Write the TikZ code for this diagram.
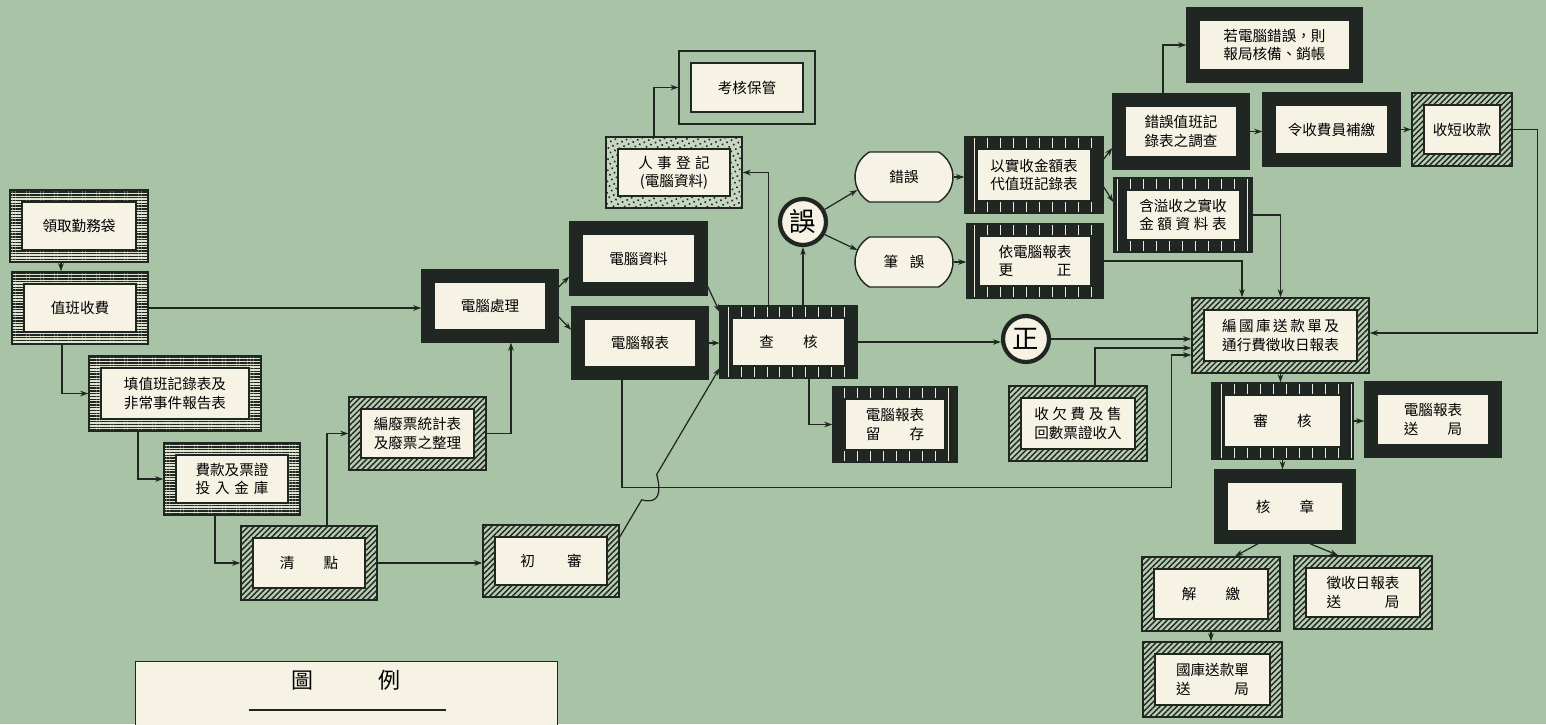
\documentclass[tikz,border=0pt]{standalone}
\usepackage{fontspec}
\newfontfamily\cjk{Noto Sans CJK TC}
\usepackage{tikz}
\usetikzlibrary{positioning,arrows.meta,calc,patterns.meta,shapes.misc}

\definecolor{bg}{RGB}{168,195,166}
\definecolor{paper}{RGB}{246,242,228}
\definecolor{ink}{RGB}{32,38,33}

\begin{document}
\begin{tikzpicture}[
  x=0.02cm, y=-0.02cm,
  font=\cjk\fontsize{8.3}{10.4}\selectfont,
  sz/.style 2 args={minimum width=#1*0.02cm, minimum height=#2*0.02cm},
  box/.style={draw=ink, line width=0.8pt, inner sep=0pt, align=center, sz={136}{73},
    path picture={\draw[ink, line width=0.7pt, fill=paper]
      ([shift={(2.4mm,2.4mm)}]path picture bounding box.south west) rectangle
      ([shift={(-2.4mm,-2.4mm)}]path picture bounding box.north east);}},
  thickbox/.style={box, fill=ink},
  stripebox/.style={box, preaction={fill=paper!70!bg},
    pattern={Lines[angle=0, distance=0.56mm, line width=0.3mm]}, pattern color=ink},
  hatchbox/.style={box, preaction={fill=bg!80!paper},
    pattern={Lines[angle=45, distance=0.8mm, line width=0.28mm]}, pattern color=ink},
  brickbox/.style={box, preaction={fill=ink},
    pattern={Lines[angle=90, distance=2.6mm, line width=0.4pt]}, pattern color=paper!85!bg},
  dotbox/.style={box, preaction={fill=bg!60!paper},
    pattern={Dots[angle=25, distance=1mm, radius=0.22mm]}, pattern color=ink},
  twinbox/.style={box, line width=0.6pt},
  pill/.style={rounded rectangle, rounded rectangle arc length=120, draw=ink, fill=paper,
    line width=0.8pt, inner sep=0pt, sz={98}{50}},
  ringmark/.style={circle, draw=ink, fill=paper, line width=2.4pt, inner sep=0pt,
    minimum size=0.92cm, font=\cjk\fontsize{15}{17}\selectfont},
  arr/.style={-{Stealth[length=1.6mm, width=1.1mm]}, line width=0.7pt, ink}
]
\path[use as bounding box, fill=bg] (0,0) rectangle (1546,724);

% ---- booth side ----
\node[stripebox, sz={138}{72}] (bag) at (79,226) {領取勤務袋};
\node[stripebox, sz={136}{72}] (duty) at (80,308) {值班收費};
\node[stripebox, sz={172}{75}] (logs) at (175,393.5) {填值班記錄表及\\非常事件報告表};
\node[stripebox, sz={136}{72}] (vault) at (232,479)
  {費款及票證\\投\hspace{.33em}入\hspace{.33em}金\hspace{.33em}庫};
\node[hatchbox, sz={136}{74}] (count) at (309,563) {清\hspace{2em}點};
\node[hatchbox, sz={137}{73}] (voids) at (417.5,433.5) {編廢票統計表\\及廢票之整理};
\node[hatchbox, sz={136}{72}] (first) at (551,561) {初\hspace{2.2em}審};

% ---- computer side ----
\node[thickbox, sz={136}{72}] (proc) at (490,306) {電腦處理};
\node[thickbox, sz={137}{73}] (cdata) at (638.5,258.5) {電腦資料};
\node[thickbox, sz={136}{72}] (crep) at (640,343) {電腦報表};
\node[brickbox, sz={137}{72}] (audit) at (788.5,342) {查\hspace{2em}核};
\node[brickbox, sz={124}{75}] (hold) at (895,424.5) {電腦報表\\留\hspace{2em}存};
\node[dotbox, sz={136}{71}] (staff) at (674,172.5)
  {人\hspace{.3em}事\hspace{.3em}登\hspace{.3em}記\\(電腦資料)};
\node[twinbox, sz={136}{73}] (keep) at (747,87.5) {考核保管};

% ---- error branch ----
\node[ringmark] (errc) at (803,222) {誤};
\node[pill] (err) at (904,177) {錯誤};
\node[pill] (slip) at (904,262) {筆\hspace{.8em}誤};
\node[brickbox, sz={138}{76}] (subst) at (1034,175) {以實收金額表\\代值班記錄表};
\node[brickbox, sz={136}{74}] (fix) at (1035,261) {依電腦報表\\更\hspace{3em}正};
\node[thickbox, sz={136}{75}] (probe) at (1181,131.5) {錯誤值班記\\錄表之調查};
\node[brickbox, sz={138}{74}] (over) at (1183,215)
  {含溢收之實收\\金\hspace{.25em}額\hspace{.25em}資\hspace{.25em}料\hspace{.25em}表};
\node[thickbox, sz={175}{74}] (writeoff) at (1274.5,45) {若電腦錯誤，則\\報局核備、銷帳};
\node[thickbox, sz={137}{73}] (repay) at (1331.5,129.5) {令收費員補繳};
\node[hatchbox, sz={100}{73}] (shortc) at (1462,129.5) {收短收款};

% ---- remittance ----
\node[ringmark] (okc) at (1026,339) {正};
\node[hatchbox, sz={138}{75}] (arrear) at (1078,423.5)
  {收\hspace{.25em}欠\hspace{.25em}費\hspace{.25em}及\hspace{.25em}售\\回數票證收入};
\node[hatchbox, sz={177}{75}] (remit) at (1280.5,335.5)
  {編\hspace{.17em}國\hspace{.17em}庫\hspace{.17em}送\hspace{.17em}款\hspace{.17em}單\hspace{.17em}及\\通行費徵收日報表};
\node[brickbox, sz={141}{76}] (review) at (1282.5,421) {審\hspace{2em}核};
\node[thickbox, sz={136}{75}] (repsend) at (1433,419.5) {電腦報表\\送\hspace{2em}局};
\node[thickbox, sz={140}{73}] (stamp) at (1285,506.5) {核\hspace{2em}章};
\node[hatchbox, sz={138}{74}] (pay) at (1211,594) {解\hspace{2em}繳};
\node[hatchbox, sz={138}{73}] (daysend) at (1363,592.5) {徵收日報表\\送\hspace{3em}局};
\node[hatchbox, sz={139}{75}] (slipsend) at (1212.5,679.5) {國庫送款單\\送\hspace{3em}局};

% ---- legend ----
\node[draw=ink, fill=paper, line width=0.8pt, anchor=north west, sz={422}{80}] (lg) at (135,661) {};
\node[font=\cjk\fontsize{12.5}{14}\selectfont] (lgt) at (346,680) {圖\hspace{3em}例};
\draw[ink, line width=1.2pt] ($(lg.north)+(-98,49)$) -- ($(lg.north)+(99,49)$);

% ---- arrows, booth ----
\draw[arr] ($(bag.south)+(-18,0)$) -- ($(duty.north)+(-19,0)$);
\draw[arr] ($(duty.south)+(-18,0)$) |- (logs.west);
\draw[arr] ($(logs.south)+(-37,0)$) |- (vault.west);
\draw[arr] ($(vault.south)+(-17,0)$) |- (count.west);
\draw[arr] ($(count.north)+(18,0)$) |- (voids.west);
\draw[arr] (voids.east) -| ($(proc.south)+(21,0)$);
\draw[arr] (duty.east) -- (duty.east -| proc.west);
\draw[arr] (count.east) -- (count.east -| first.west);

% ---- arrows, computer ----
\draw[arr] ($(proc.east)+(0,-19)$) -- ($(cdata.west)+(0,18)$);
\draw[arr] ($(proc.east)+(0,11)$) -- ($(crep.west)+(0,-13)$);
\draw[arr] ($(cdata.east)+(0,28)$) -- ($(audit.west)+(0,-30)$);
\draw[arr] (crep.east) -- (crep.east -| audit.west);
\coordinate (hs) at ($(first.east)+(0,-24)$);
\coordinate (he) at ($(audit.west)+(0,26)$);
\draw[arr] (hs) -- ($(hs)!0.22!(he)$) to[out=-15, in=-75, looseness=1.6] ($(hs)!0.37!(he)$) -- (he);
\draw[arr] ($(crep.south)+(-18,0)$) -- ++(0,108) -| ($(remit.west)+(-20,19.5)$) -- ($(remit.west)+(0,19.5)$);
\draw[arr] ($(audit.north)+(-20,0)$) |- (staff.east);
\draw[arr] ($(staff.north)+(-20,0)$) |- (keep.west);
\draw[arr] ($(audit.south)+(20.5,0)$) |- (hold.west);

% ---- arrows, errors ----
\draw[arr] (audit.north -| errc.south) -- (errc.south);
\draw[arr] (errc.30) -- ($(err.west)+(3,13)$);
\draw[arr] (errc.-30) -- ($(slip.west)+(3,-12)$);
\draw[arr] (err.east) -- (err.east -| subst.west);
\draw[arr] (slip.east) -- (slip.east -| fix.west);
\draw[arr] ($(subst.east)+(0,-16)$) -- ($(probe.west)+(0,16.5)$);
\draw[arr] ($(subst.east)+(0,12)$) -- ($(over.west)+(0,-13)$);
\draw[arr] ($(probe.north)+(-18,0)$) |- (writeoff.west);
\draw[arr] (probe.east) -- (probe.east -| repay.west);
\draw[arr] (repay.east) -- (repay.east -| shortc.west);
\draw[arr] (shortc.east) -| ($(remit.east)+(168,-2.5)$) -- ($(remit.east)+(0,-2.5)$);
\draw[arr] (fix.east) -| ($(remit.north)+(-38.5,0)$);
\draw[arr] (over.east) -| (remit.north);

% ---- arrows, remittance ----
\draw[arr] (audit.east) -- (audit.east -| okc.west);
\draw[arr] (okc.east) -- (okc.east -| remit.west);
\draw[arr] ($(arrear.north)+(17,0)$) |- ($(remit.west)+(0,12.5)$);
\draw[arr] (remit.south) -- (remit.south |- review.north);
\draw[arr] (review.east) -- (review.east -| repsend.west);
\draw[arr] (review.south) -- (review.south |- stamp.north);
\draw[arr] ($(stamp.south)+(-27,0)$) -- ($(pay.north)+(24,0)$);
\draw[arr] ($(stamp.south)+(25,0)$) -- ($(daysend.north)+(-25,0)$);
\draw[arr] (pay.south) -- (pay.south |- slipsend.north);
\end{tikzpicture}
\end{document}
